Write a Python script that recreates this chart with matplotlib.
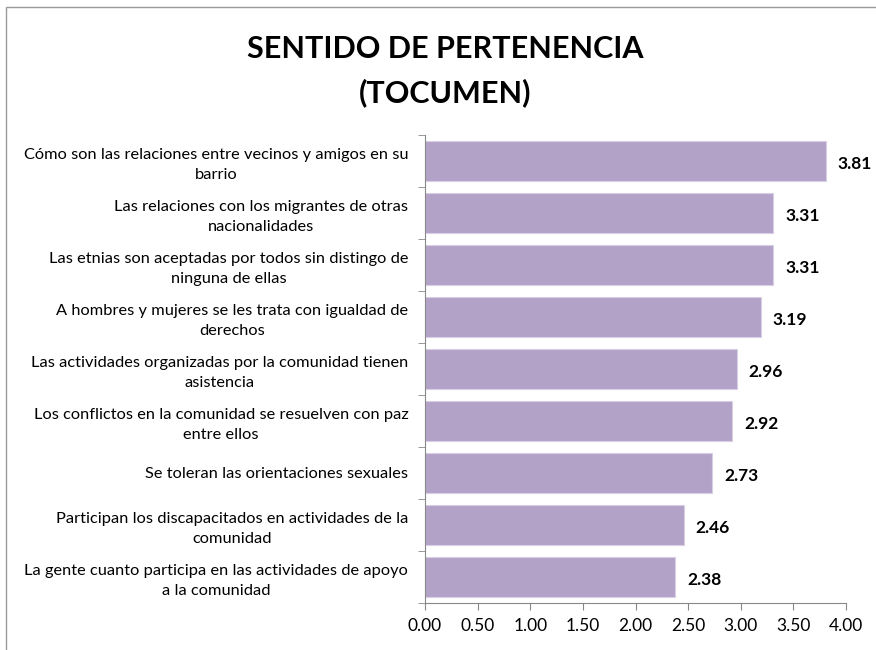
import matplotlib
matplotlib.use("Agg")
import matplotlib.pyplot as plt
from matplotlib.patches import Rectangle
import numpy as np

categories = [
    "Cómo son las relaciones entre vecinos y amigos en su\nbarrio",
    "Las relaciones con los migrantes de otras\nnacionalidades",
    "Las etnias son aceptadas por todos sin distingo de\nninguna de ellas",
    "A hombres y mujeres se les trata con igualdad de\nderechos",
    "Las actividades organizadas por la comunidad tienen\nasistencia",
    "Los conflictos en la comunidad se resuelven con paz\nentre ellos",
    "Se toleran las orientaciones sexuales",
    "Participan los discapacitados en actividades de la\ncomunidad",
    "La gente cuanto participa en las actividades de apoyo\na la comunidad",
]
values = [3.81, 3.31, 3.31, 3.19, 2.96, 2.92, 2.73, 2.46, 2.38]
xticks = [0.0, 0.5, 1.0, 1.5, 2.0, 2.5, 3.0, 3.5, 4.0]
title = "SENTIDO DE PERTENENCIA\n(TOCUMEN)"

plt.rcParams['font.family'] = ['Lato', 'DejaVu Sans']

fig = plt.figure(figsize=(8.76, 6.5), dpi=100)
fig.patches.append(Rectangle((6/876, -0.1), 1.2, 1 - 7/650 + 0.1, transform=fig.transFigure,
                             fill=False, edgecolor='#9a9a9a', linewidth=1.0))
ax = fig.add_axes([425/876, 1 - 603/650, 421/876, (603 - 135)/650])

n = len(categories)
y = np.arange(n)[::-1]
ax.barh(y, values, height=0.77, color='#B3A2C7', edgecolor='#d8cfe6', linewidth=0.8)
for yi, v in zip(y, values):
    ax.text(v + 0.11, yi - 0.05, f"{v:.2f}", va='center', ha='left',
            fontsize=12.5, fontweight='bold', color='black')

ax.set_xlim(0, 4)
ax.set_ylim(-0.5, n - 0.5)
ax.set_xticks(xticks)
ax.set_xticklabels([f"{t:.2f}" for t in xticks], fontsize=12.5)
ax.set_yticks(y)
ax.set_yticklabels(categories, fontsize=11.8, linespacing=1.5)
for lab in ax.get_yticklabels():
    lab.set_multialignment('center')
ax.set_yticks(np.arange(n + 1) - 0.5, minor=True)
ax.tick_params(axis='y', which='major', length=0, pad=12)
ax.tick_params(axis='y', which='minor', length=5, color='#888888', direction='out')
ax.tick_params(axis='x', which='major', length=5, color='#888888', direction='out', pad=6)
for s in ['top', 'right']:
    ax.spines[s].set_visible(False)
for s in ['left', 'bottom']:
    ax.spines[s].set_color('#888888')

fig.text(445/876, 1 - 71/650, title, ha='center', va='center', fontsize=22,
         fontweight='bold', linespacing=1.65)

fig.savefig("out.png", dpi=100)
